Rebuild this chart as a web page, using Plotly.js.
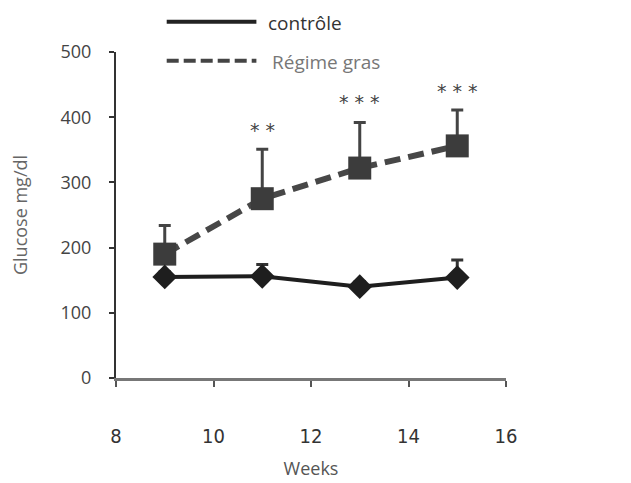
<!DOCTYPE html>
<html>
<head>
<meta charset="utf-8">
<script src="https://cdn.plot.ly/plotly-3.0.1.min.js"></script>
<style>html,body{margin:0;padding:0;background:#fff;}#chart{width:631px;height:483px;}</style>
</head>
<body>
<div id="chart"></div>
<script>
var weeks = [9, 11, 13, 15];
var controle = [155, 156, 140, 154];
var controleErr = [8, 18, 8, 27];
var gras = [190, 275, 322, 356];
var grasErr = [44, 76, 70, 55];
var starWeeks = [11, 13, 15];
var starY = [380, 424, 440];
var starLabels = ['* *', '* * *', '* * *'];
var xTicks = [8, 10, 12, 14, 16];
var yTicks = [0, 100, 200, 300, 400, 500];

var zeros = weeks.map(function(){return 0;});

var traces = [
  {
    x: weeks, y: gras, type: 'scatter', mode: 'lines+markers', name: 'Régime gras',
    line: {color: '#474747', width: 6, dash: '16px,8px'},
    marker: {symbol: 'square', size: 23, color: '#3c3c3c'},
    error_y: {type: 'data', symmetric: false, array: grasErr, arrayminus: zeros, color: '#444', thickness: 3, width: 6}
  },
  {
    x: weeks, y: controle, type: 'scatter', mode: 'lines+markers', name: 'contrôle',
    line: {color: '#1e1e1e', width: 4},
    marker: {symbol: 'diamond', size: 19, color: '#1e1e1e'},
    error_y: {type: 'data', symmetric: false, array: controleErr, arrayminus: zeros, color: '#333', thickness: 3, width: 6}
  }
];

var annotations = starWeeks.map(function(w, i){
  return {x: w, y: starY[i], xref: 'x', yref: 'y', text: starLabels[i], showarrow: false,
    font: {family: 'DejaVu Sans', size: 19, color: '#444'}};
});
annotations.push({xref: 'paper', yref: 'paper', x: 0.385, y: 1.09, xanchor: 'left', yanchor: 'middle',
  text: 'contrôle', showarrow: false, font: {family: 'Open Sans', size: 19, color: '#333'}});
annotations.push({xref: 'paper', yref: 'paper', x: 0.395, y: 0.97, xanchor: 'left', yanchor: 'middle',
  text: 'Régime gras', showarrow: false, font: {family: 'Open Sans', size: 19, color: '#777'}});

var shapes = [
  {type: 'line', xref: 'paper', yref: 'paper', x0: 0.13, x1: 0.36, y0: 1.093, y1: 1.093, line: {color: '#222', width: 4}},
  {type: 'line', xref: 'paper', yref: 'paper', x0: 0.13, x1: 0.36, y0: 0.973, y1: 0.973, line: {color: '#444', width: 4, dash: '12px,5px'}}
];

var layout = {
  width: 631, height: 483,
  margin: {l: 116, r: 125, t: 52, b: 105},
  paper_bgcolor: '#fff', plot_bgcolor: '#fff',
  showlegend: false,
  xaxis: {
    range: [8, 16], tickvals: xTicks, ticktext: xTicks.map(String),
    showgrid: false, zeroline: false, showline: true, linecolor: '#777', linewidth: 3,
    ticks: 'outside', ticklen: 6, tickwidth: 2, tickcolor: '#555',
    tickfont: {family: 'DejaVu Sans Condensed', size: 20, color: '#333'}, ticklabelstandoff: 32,
    title: {text: 'Weeks', font: {family: 'Open Sans', size: 18, color: '#555'}, standoff: 16}
  },
  yaxis: {
    range: [0, 500], tickvals: yTicks, ticktext: yTicks.map(String),
    showgrid: false, zeroline: false, showline: true, linecolor: '#333', linewidth: 2,
    ticks: 'outside', ticklen: 5, tickwidth: 2, tickcolor: '#333',
    tickfont: {family: 'Open Sans', size: 18, color: '#444'}, ticklabelstandoff: 14,
    title: {text: 'Glucose mg/dl', font: {family: 'Open Sans', size: 18, color: '#666'}, standoff: 28}
  },
  annotations: annotations,
  shapes: shapes
};

Plotly.newPlot('chart', traces, layout, {displayModeBar: false, staticPlot: true});
</script>
</body>
</html>
